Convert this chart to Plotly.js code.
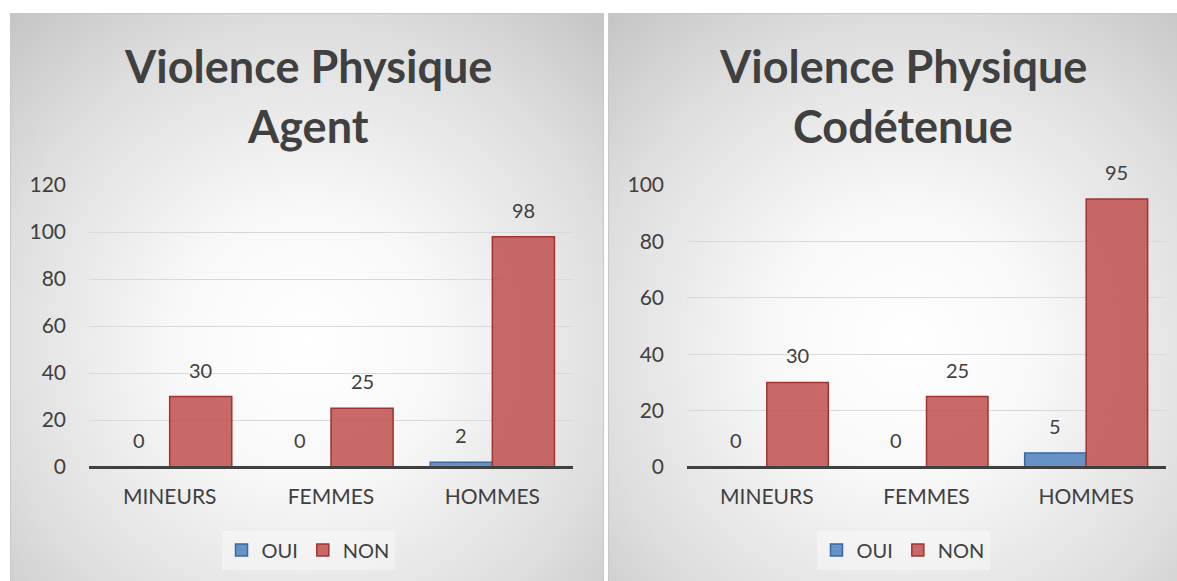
<!DOCTYPE html>
<html>
<head>
<meta charset="utf-8">
<script src="https://cdn.plot.ly/plotly-3.0.1.min.js"></script>
<style>
  html, body { margin: 0; padding: 0; background: #ffffff; width: 1177px; height: 581px; overflow: hidden; position: relative; }
  .panel {
    position: absolute; top: 13px; height: 600px;
    box-sizing: border-box; border: 1px solid #c8c8c8;
    background: radial-gradient(ellipse 75% 75% at 50% 55%, #ffffff 0%, #f8f8f8 30%, #dedede 70%, #c4c4c4 100%);
  }
  #p1 { left: 10px; width: 594px; }
  #p2 { left: 608px; width: 596px; }
</style>
</head>
<body>
<div id="p1" class="panel"></div>
<div id="p2" class="panel"></div>
<script>
const categories = ['MINEURS', 'FEMMES', 'HOMMES'];
const seriesNames = ['OUI', 'NON'];
const agentTitle = ['Violence Physique', 'Agent'];
const agentOui = [0, 0, 2];
const agentNon = [30, 25, 98];
const agentTicks = [0, 20, 40, 60, 80, 100, 120];
const codetTitle = ['Violence Physique', 'Codétenue'];
const codetOui = [0, 0, 5];
const codetNon = [30, 25, 95];
const codetTicks = [0, 20, 40, 60, 80, 100];

const FONT = 'Lato, "Open Sans", sans-serif';
const TXT = '#404040';
const H = 568, TOP = 171, BOTTOM = 453;

function traces(oui, non) {
  return [
    { type: 'bar', name: seriesNames[0], x: categories, y: oui,
      marker: { color: 'rgba(79,129,189,0.85)', line: { color: '#3a68a3', width: 1.5 } } },
    { type: 'bar', name: seriesNames[1], x: categories, y: non,
      marker: { color: 'rgba(192,80,77,0.85)', line: { color: '#9e3532', width: 1.5 } } }
  ];
}

function layout(titleLines, oui, non, ticks, w, l, r, titleCenterPx) {
  const plotW = w - l - r;
  const catW = plotW / categories.length;
  const barGap = 0.23;
  const half = catW * (1 - barGap) / 4;
  const ann = [];
  titleLines.forEach((t, i) => ann.push({
    text: '<b>' + t + '</b>', xref: 'paper', x: (titleCenterPx - l) / plotW, xanchor: 'center',
    yref: 'paper', y: (BOTTOM - (i === 0 ? 52 : 112)) / (BOTTOM - TOP), yanchor: 'middle',
    showarrow: false, font: { family: FONT, size: 45, color: TXT }
  }));
  [oui, non].forEach((vals, s) => vals.forEach((v, k) => ann.push({
    text: String(v), x: categories[k], y: v, xref: 'x', yref: 'y',
    xshift: s === 0 ? -half : half, yshift: 13, yanchor: 'bottom', xanchor: 'center',
    showarrow: false, font: { family: FONT, size: 20, color: TXT }
  })));
  return {
    width: w, height: H,
    paper_bgcolor: 'rgba(0,0,0,0)', plot_bgcolor: 'rgba(0,0,0,0)',
    margin: { l: l, r: r, t: TOP, b: H - BOTTOM, pad: 0 },
    barmode: 'group', bargap: barGap, bargroupgap: 0,
    font: { family: FONT, color: TXT },
    showlegend: true,
    legend: { orientation: 'h', x: (titleCenterPx - l) / plotW, xref: 'paper', xanchor: 'center',
      y: 1 - 536 / H, yref: 'container', yanchor: 'middle', bgcolor: 'rgba(255,255,255,0.35)',
      font: { family: FONT, size: 20, color: TXT }, traceorder: 'normal' },
    xaxis: { type: 'category', showgrid: false, showline: false, ticks: '', zeroline: false,
      tickfont: { family: FONT, size: 21, color: TXT }, ticklabelstandoff: 15 },
    yaxis: { range: [0, ticks[ticks.length - 1]], tickvals: ticks, showgrid: true, gridcolor: '#d9d9d9', gridwidth: 1,
      zeroline: true, zerolinecolor: '#404040', zerolinewidth: 3, zerolinelayer: 'above traces',
      showline: false, ticks: '',
      tickfont: { family: FONT, size: 21, color: TXT }, ticklabelstandoff: 22 },
    annotations: ann
  };
}

Plotly.newPlot('p1', traces(agentOui, agentNon), layout(agentTitle, agentOui, agentNon, agentTicks, 594, 78, 32, 297), { staticPlot: true });
Plotly.newPlot('p2', traces(codetOui, codetNon), layout(codetTitle, codetOui, codetNon, codetTicks, 596, 78, 39, 294), { staticPlot: true });
</script>
</body>
</html>
